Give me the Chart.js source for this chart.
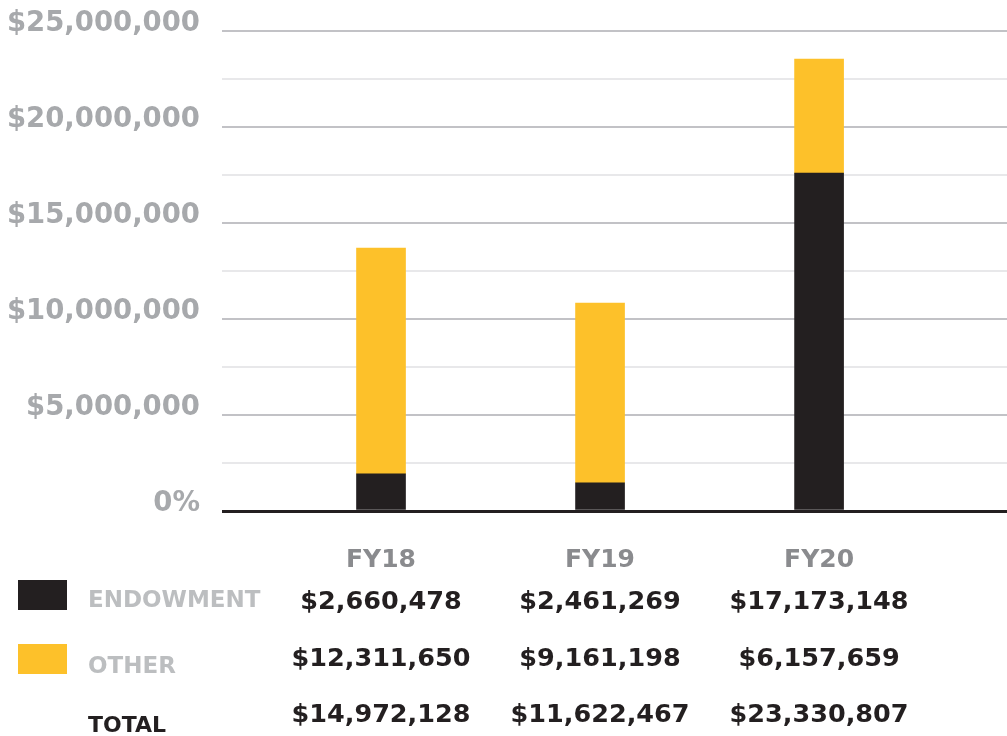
<!DOCTYPE html>
<html>
<head>
<meta charset="utf-8">
<script src="https://cdn.jsdelivr.net/npm/chart.js@4/dist/chart.umd.min.js"></script>
<style>
  body { margin: 0; background: #fff; }
  #wrap { position: relative; width: 1007px; height: 736px; overflow: hidden; }
  #data { position: absolute; left: 0; top: 0; }
  .txt {
    position: absolute;
    font-family: "DejaVu Sans", sans-serif;
    font-weight: bold;
    white-space: nowrap;
    line-height: 1;
  }
  .mid { transform: translate(-50%, -50%); }
  .left { transform: translateY(-50%); }
  .swatch { position: absolute; left: 18px; width: 49px; height: 30px; }
</style>
</head>
<body>
<div id="wrap">
  <canvas id="data" width="1007" height="736"></canvas>
</div>
<script>
let barchart;

let years = ["FY18", "FY19", "FY20"];
let xPos = [1, 2, 3];

// bar heights as drawn in the picture
let endowment = [1930000, 1470000, 17600000];
let other = [11770000, 9360000, 5940000];

// figures printed in the table under the chart
let endowmentText = ["$2,660,478", "$2,461,269", "$17,173,148"];
let otherText = ["$12,311,650", "$9,161,198", "$6,157,659"];
let totalText = ["$14,972,128", "$11,622,467", "$23,330,807"];

let yTicks = [0, 5000000, 10000000, 15000000, 20000000, 25000000];

const black = "#231f20";
const yellow = "#fdc12a";

function pts(arr) {
  return arr.map((v, i) => ({ x: xPos[i], y: v }));
}

const graph = document.getElementById("data");
barchart = new Chart(graph, {
  type: "bar",
  data: {
    datasets: [
      { label: "ENDOWMENT", data: pts(endowment), backgroundColor: black, barThickness: 49 },
      { label: "OTHER", data: pts(other), backgroundColor: yellow, barThickness: 49 },
    ],
  },
  options: {
    responsive: false,
    animation: false,
    layout: { padding: { top: 31, bottom: 225, left: 0, right: 0 } },
    scales: {
      x: {
        type: "linear",
        stacked: true,
        offset: false,
        min: 0.274,
        max: 3.858,
        display: false,
      },
      y: {
        stacked: true,
        min: 0,
        max: 25000000,
        afterFit: (scale) => {
          scale.width = 222;
          scale.paddingTop = 0;
          scale.paddingBottom = 0;
        },
        ticks: {
          stepSize: 2500000,
          padding: 22,
          labelOffset: -7,
          color: "#a7a9ac",
          font: { family: "DejaVu Sans", weight: "bold", size: 27.5 },
          callback: (v) => {
            if (!yTicks.includes(v)) return "";
            if (v === 0) return "0%";
            return "$" + v.toLocaleString("en-US");
          },
        },
        grid: {
          drawTicks: false,
          color: (c) => {
            const v = c.tick.value;
            if (v === 0) return black;
            return yTicks.includes(v) ? "#c2c2c6" : "#e8e8ea";
          },
          lineWidth: (c) => (c.tick.value === 0 ? 3 : 2),
        },
        border: { display: false },
      },
    },
    plugins: {
      legend: { display: false },
      tooltip: { enabled: false },
    },
  },
});

// table under the chart, columns lined up with the bars
const wrap = document.getElementById("wrap");
function addText(str, x, y, size, color, cls) {
  const d = document.createElement("div");
  d.className = "txt " + cls;
  d.style.left = x + "px";
  d.style.top = y + "px";
  d.style.fontSize = size + "px";
  d.style.color = color;
  d.textContent = str;
  wrap.appendChild(d);
}

const xs = barchart.scales.x;
years.forEach((yr, i) => {
  const cx = xs.getPixelForValue(xPos[i]);
  addText(yr, cx, 558, 25, "#8a8b8e", "mid");
  addText(endowmentText[i], cx, 601, 25.5, black, "mid");
  addText(otherText[i], cx, 658, 25.5, black, "mid");
  addText(totalText[i], cx, 714, 25.5, black, "mid");
});

let sw1 = document.createElement("div");
sw1.className = "swatch";
sw1.style.top = "580px";
sw1.style.background = black;
wrap.appendChild(sw1);
let sw2 = document.createElement("div");
sw2.className = "swatch";
sw2.style.top = "644px";
sw2.style.background = yellow;
wrap.appendChild(sw2);

addText("ENDOWMENT", 88, 599, 23, "#bcbec0", "left");
addText("OTHER", 88, 665, 23, "#bcbec0", "left");
addText("TOTAL", 88, 725, 22, black, "left");
</script>
</body>
</html>
